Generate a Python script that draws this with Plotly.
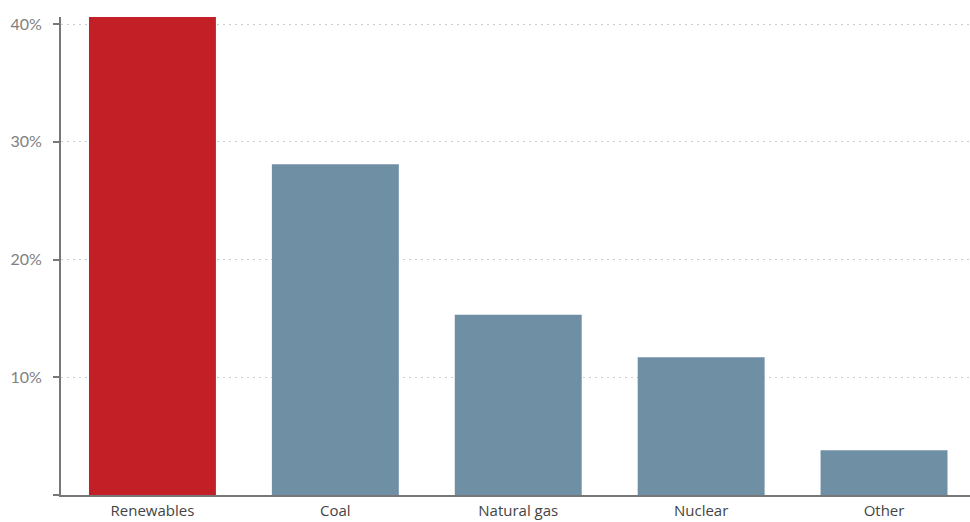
import plotly.graph_objects as go

categories = ["Renewables", "Coal", "Natural gas", "Nuclear", "Other"]
values = [40.6, 28.1, 15.3, 11.7, 3.8]
bar_colors = ["#C31F26", "#6F8FA4", "#6F8FA4", "#6F8FA4", "#6F8FA4"]
ytick_vals = [0, 10, 20, 30, 40]
ytick_text = ["", "10%", "20%", "30%", "40%"]

fig = go.Figure(go.Bar(x=categories, y=values, marker_color=bar_colors,
                       marker_line_width=0, hoverinfo="skip"))

fig.update_layout(
    width=970, height=522,
    margin=dict(l=61, r=0, t=17, b=27),
    paper_bgcolor="white", plot_bgcolor="white",
    bargap=0.306, showlegend=False,
)
fig.update_xaxes(
    range=[-0.5, 4.47], showgrid=False, showline=True, linecolor="#777777", linewidth=2,
    ticks="", ticklabelstandoff=1, automargin=False,
    tickfont=dict(family="Open Sans", size=15, color="#444444"),
)
fig.update_yaxes(
    range=[0, 40.6], tickvals=ytick_vals, ticktext=ytick_text,
    showgrid=True, gridcolor="#C5CED4", griddash="2px,4px", gridwidth=1,
    showline=True, linecolor="#777777", linewidth=2,
    ticks="outside", ticklen=6, tickwidth=2, tickcolor="#777777",
    ticklabelstandoff=8, automargin=False,
    tickfont=dict(family="Lato", size=16, color="#808080"),
    zeroline=False,
)
fig.write_html("out.html")
